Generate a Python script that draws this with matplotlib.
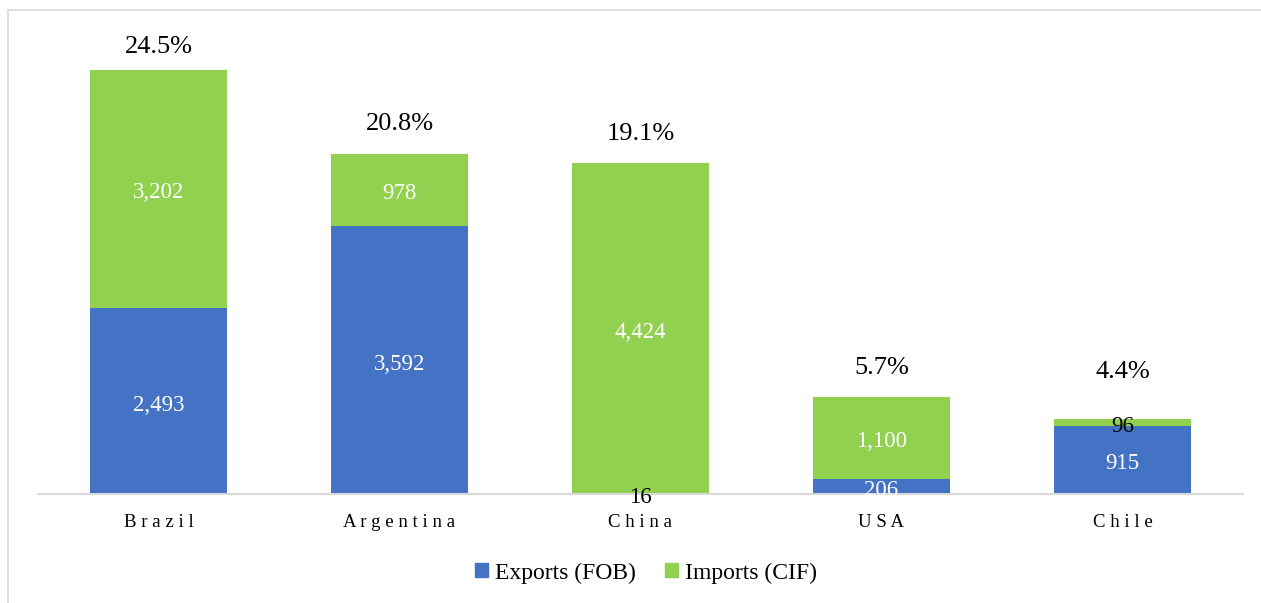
import matplotlib
matplotlib.use("Agg")
import matplotlib.pyplot as plt
from matplotlib.patches import Rectangle, Patch

plt.rcParams['font.family'] = ['Liberation Serif', 'DejaVu Serif']

countries = ["Brazil", "Argentina", "China", "USA", "Chile"]
exports_fob = [2493, 3592, 16, 206, 915]
imports_cif = [3202, 978, 4424, 1100, 96]
shares = ["24.5%", "20.8%", "19.1%", "5.7%", "4.4%"]

# style: vertical offset (px) of share labels above bar tops
share_offsets_px = [23, 30, 29, 29, 47]

BLUE = "#4472C4"
GREEN = "#92D050"
GRID = "#D9D9D9"

W, H = 1261, 603
fig = plt.figure(figsize=(W / 100, H / 100), dpi=100)

# outer frame (extends past right/bottom edges)
fig.patches.append(Rectangle((8 / W, -0.1), 1.2, 1 - 10 / H + 0.1,
                             transform=fig.transFigure, fill=False,
                             edgecolor=GRID, linewidth=1.2, zorder=0))

ax = fig.add_axes([38 / W, 109 / H, 1205 / W, 447 / H])
ax.set_facecolor("none")
x = list(range(len(countries)))
bw = 137 / 241

ax.bar(x, exports_fob, width=bw, color=BLUE, label="Exports (FOB)", zorder=2)
ax.bar(x, imports_cif, width=bw, bottom=exports_fob, color=GREEN,
       label="Imports (CIF)", zorder=2)

ax.set_xlim(-0.5, len(countries) - 0.5)
ax.set_ylim(0, 6000)

val_shift = -4 * 0.72
for i in x:
    e, m = exports_fob[i], imports_cif[i]
    ax.annotate(f"{e:,}", (i, e / 2), xytext=(0, val_shift),
                textcoords="offset points", ha="center", va="center",
                fontsize=16.5, color="white" if e > 150 else "black", zorder=3)
    ax.annotate(f"{m:,}", (i, e + m / 2), xytext=(0, val_shift),
                textcoords="offset points", ha="center", va="center",
                fontsize=16.5, color="white" if m > 150 else "black", zorder=3)
    ax.annotate(shares[i], (i, e + m), xytext=(0, share_offsets_px[i] * 0.72),
                textcoords="offset points", ha="center", va="center",
                fontsize=19, color="black")

for s in ["top", "left", "right"]:
    ax.spines[s].set_visible(False)
ax.spines["bottom"].set_color(GRID)
ax.spines["bottom"].set_linewidth(1.5)
ax.set_yticks([])
ax.set_xticks(x)
ax.set_xticklabels([" ".join(c) for c in countries], fontsize=13.5)
ax.tick_params(axis="x", length=0, pad=14.5)

handles = [Patch(color=BLUE), Patch(color=GREEN)]
fig.legend(handles, ["Exports (FOB)", "Imports (CIF)"], loc="center",
           bbox_to_anchor=(646 / W, 1 - 573 / H), ncol=2, frameon=False,
           fontsize=17, handlelength=0.55, handleheight=0.55,
           handletextpad=0.3, columnspacing=1.2)

fig.savefig("out.png", dpi=100)
